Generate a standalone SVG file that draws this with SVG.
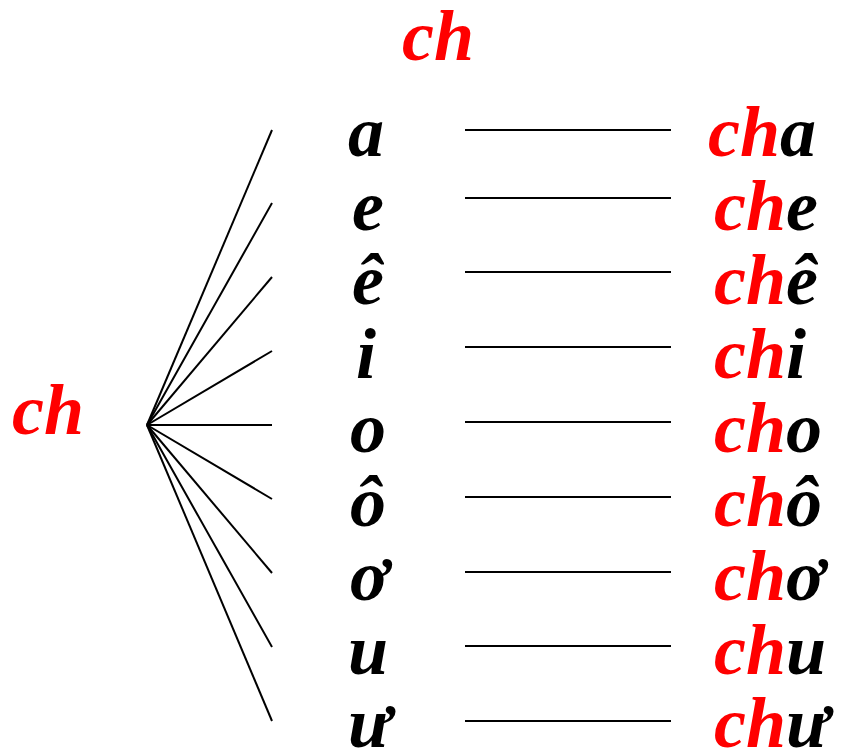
<svg xmlns="http://www.w3.org/2000/svg" width="843" height="754" viewBox="0 0 843 754">
<style>
text{font-family:"Liberation Serif","Times New Roman",serif;font-weight:bold;font-style:italic;font-size:72px}
.r{fill:#ff0000}
.k{fill:#000}
line{stroke:#000;stroke-width:2}
</style>
<rect width="843" height="754" fill="#fff"/>
<g id="title"><text class="r" x="402" y="60">ch</text></g>
<g id="root"><text class="r" x="12" y="434">ch</text></g>
<g id="connectors">
<line x1="147" y1="425" x2="272" y2="130"/>
<line x1="147" y1="425" x2="272" y2="203"/>
<line x1="147" y1="425" x2="272" y2="277"/>
<line x1="147" y1="425" x2="272" y2="351"/>
<line x1="147" y1="425" x2="272" y2="425"/>
<line x1="147" y1="425" x2="272" y2="499"/>
<line x1="147" y1="425" x2="272" y2="573"/>
<line x1="147" y1="425" x2="272" y2="647"/>
<line x1="147" y1="425" x2="272" y2="721"/>
<line x1="465" y1="130" x2="671" y2="130"/>
<line x1="465" y1="198" x2="671" y2="198"/>
<line x1="465" y1="272" x2="671" y2="272"/>
<line x1="465" y1="347" x2="671" y2="347"/>
<line x1="465" y1="422" x2="671" y2="422"/>
<line x1="465" y1="497" x2="671" y2="497"/>
<line x1="465" y1="572" x2="671" y2="572"/>
<line x1="465" y1="646" x2="671" y2="646"/>
<line x1="465" y1="721" x2="671" y2="721"/>
</g>
<g id="v-a"><text class="k" x="348" y="156">a</text></g>
<g id="v-e"><text class="k" x="352" y="230">e</text></g>
<g id="v-ee"><text class="k" x="352" y="304">ê</text></g>
<g id="v-i"><text class="k" x="356" y="378">i</text></g>
<g id="v-o"><text class="k" x="350" y="452">o</text></g>
<g id="v-oo"><text class="k" x="350" y="526">ô</text></g>
<g id="v-ow"><text class="k" x="350" y="600">ơ</text></g>
<g id="v-u"><text class="k" x="348" y="674">u</text></g>
<g id="v-uw"><text class="k" x="348" y="747">ư</text></g>
<g id="r-a"><text x="708" y="156"><tspan class="r">ch</tspan><tspan class="k">a</tspan></text></g>
<g id="r-e"><text x="714" y="230"><tspan class="r">ch</tspan><tspan class="k">e</tspan></text></g>
<g id="r-ee"><text x="714" y="304"><tspan class="r">ch</tspan><tspan class="k">ê</tspan></text></g>
<g id="r-i"><text x="714" y="378"><tspan class="r">ch</tspan><tspan class="k">i</tspan></text></g>
<g id="r-o"><text x="714" y="452"><tspan class="r">ch</tspan><tspan class="k">o</tspan></text></g>
<g id="r-oo"><text x="714" y="526"><tspan class="r">ch</tspan><tspan class="k">ô</tspan></text></g>
<g id="r-ow"><text x="714" y="600"><tspan class="r">ch</tspan><tspan class="k">ơ</tspan></text></g>
<g id="r-u"><text x="714" y="674"><tspan class="r">ch</tspan><tspan class="k">u</tspan></text></g>
<g id="r-uw"><text x="714" y="747"><tspan class="r">ch</tspan><tspan class="k">ư</tspan></text></g>
</svg>
